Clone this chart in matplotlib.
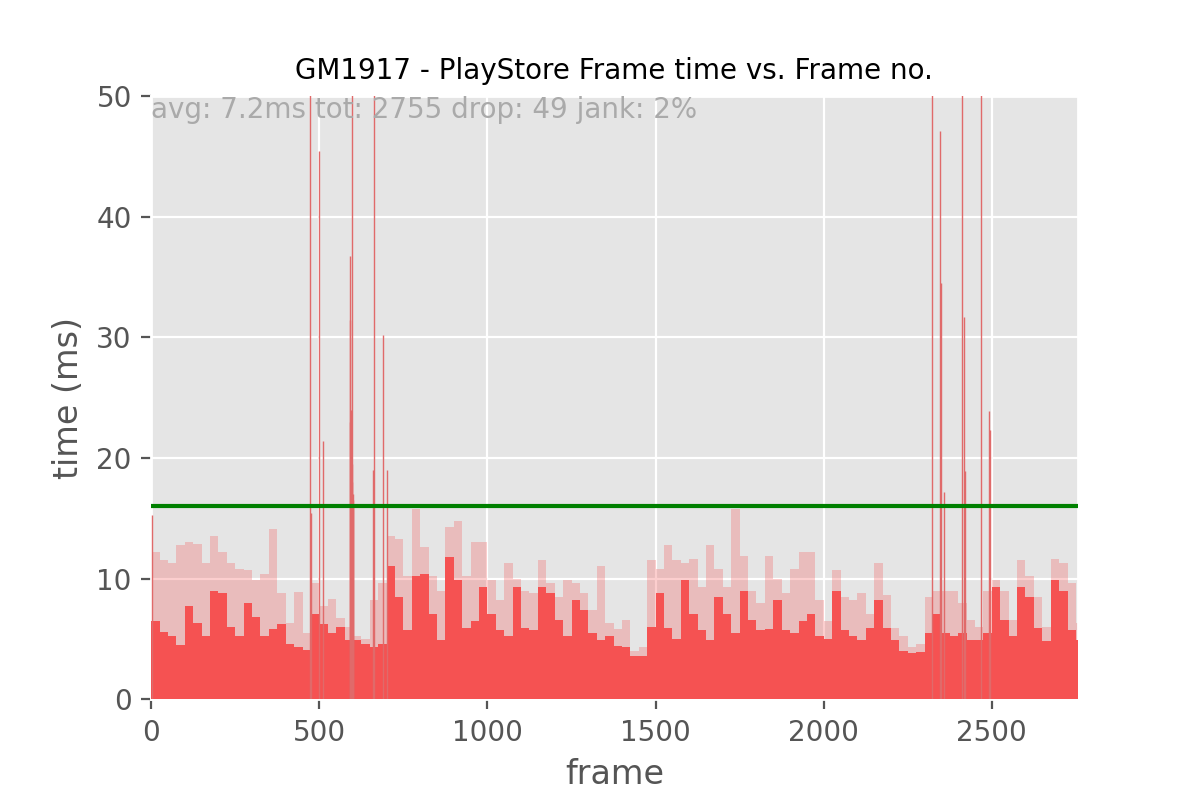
#!/usr/bin/env python3
"""Frame time per frame (PlayStore, GM1917), with the 16 ms jank threshold."""
import matplotlib
matplotlib.use("Agg")
import matplotlib.pyplot as plt
import numpy as np

# ── data (25-frame blocks) ────────────────────────────────────────────────────

TOTAL_FRAMES = 2755
BLOCK = 25

# typical (dense) frame time in each block, ms
BLOCK_BASE = [
    6.5, 5.6, 5.2, 4.5, 7.7, 6.3, 5.2, 9.0, 8.8, 6.0,
    5.2, 8.0, 6.8, 5.2, 5.8, 6.2, 4.6, 4.3, 4.1, 7.1,
    6.2, 5.5, 6.0, 4.9, 4.9, 4.6, 4.3, 4.6, 11.0, 8.5,
    5.7, 10.2, 10.4, 7.1, 4.9, 11.8, 9.9, 5.9, 6.5, 9.3,
    7.1, 5.7, 5.2, 9.3, 5.9, 5.7, 9.3, 8.8, 6.6, 5.2,
    8.2, 7.4, 5.5, 4.9, 5.2, 4.4, 4.3, 3.6, 3.6, 6.0,
    8.8, 5.9, 5.0, 9.9, 7.1, 5.7, 4.9, 8.5, 7.1, 5.5,
    9.0, 6.6, 5.7, 5.8, 8.2, 5.7, 5.5, 6.5, 7.1, 5.2,
    5.0, 9.0, 5.7, 5.2, 4.9, 5.9, 8.2, 5.9, 4.9, 4.0,
    3.8, 3.9, 5.5, 7.1, 5.5, 5.2, 5.5, 4.9, 4.9, 5.5,
    9.3, 6.6, 5.2, 9.3, 8.5, 5.9, 4.8, 9.9, 9.0, 5.7,
    4.9,
]

# highest ordinary frame in each block, ms
BLOCK_PEAK = [
    12.2, 11.5, 11.3, 12.8, 13.0, 12.9, 11.3, 13.5, 12.2, 11.3,
    10.8, 10.7, 9.9, 10.4, 14.1, 8.8, 6.3, 8.9, 5.5, 9.6,
    7.7, 8.3, 6.7, 6.0, 5.2, 5.0, 8.2, 9.6, 13.5, 13.3,
    10.2, 15.8, 12.6, 10.2, 9.0, 14.3, 14.8, 10.2, 13.0, 13.0,
    9.9, 8.2, 11.3, 10.0, 9.0, 8.8, 11.5, 9.6, 8.5, 9.9,
    9.6, 8.8, 7.4, 11.0, 6.3, 5.8, 6.6, 4.0, 4.3, 11.5,
    10.8, 12.8, 11.5, 11.3, 11.6, 9.3, 12.8, 10.8, 9.3, 15.8,
    11.9, 9.0, 8.0, 11.9, 10.0, 8.8, 10.8, 12.2, 12.2, 8.2,
    6.5, 10.7, 8.5, 8.2, 8.8, 7.1, 11.3, 8.6, 5.9, 5.2,
    4.3, 4.6, 8.5, 9.0, 9.0, 9.0, 8.0, 6.6, 6.0, 9.0,
    9.9, 9.0, 6.6, 11.5, 10.2, 8.5, 6.0, 11.6, 11.3, 9.6,
    6.3,
]

# single slow frames (frame no., ms); values above 50 run off the top
SPIKE_FRAMES = [2, 473, 475, 500, 512, 590, 591, 592, 593, 594, 595, 596,
                597, 598, 599, 600, 601, 660, 664, 688, 700,
                2322, 2347, 2350, 2357, 2411, 2416, 2419, 2467, 2493, 2495]
SPIKE_MS = [15.3, 62.0, 15.4, 45.4, 21.4, 31.4, 23.0, 36.7, 24.0, 22.5, 21.0, 19.5,
            18.0, 55.0, 17.0, 16.5, 16.0, 19.0, 60.0, 30.2, 19.0,
            60.0, 47.1, 34.5, 17.2, 60.0, 31.7, 18.9, 60.0, 23.9, 22.3]

JANK_MS = 16
STATS = "avg: 7.2ms tot: 2755 drop: 49 jank: 2%"
TITLE = "GM1917 - PlayStore Frame time vs. Frame no."

RED = "#f55252"

# ── figure ────────────────────────────────────────────────────────────────────

plt.style.use("ggplot")
fig, ax = plt.subplots(figsize=(6, 4), dpi=200)
fig.subplots_adjust(left=0.126, right=0.898, top=0.88, bottom=0.126)

starts = np.arange(len(BLOCK_BASE)) * BLOCK
widths = np.minimum(BLOCK, TOTAL_FRAMES - starts)

ax.bar(starts, BLOCK_PEAK, width=widths, align="edge", color=RED,
       alpha=0.28, lw=0, zorder=2)
ax.bar(starts, BLOCK_BASE, width=widths, align="edge", color=RED,
       lw=0, zorder=3)
ax.vlines(SPIKE_FRAMES, 0, SPIKE_MS, color="#e06a6a", lw=0.5, zorder=3)

ax.axhline(JANK_MS, color="green", lw=1.5, zorder=4)

ax.set_xlim(0, TOTAL_FRAMES)
ax.set_ylim(0, 50)
ax.set_xticks(range(0, 3000, 500))
ax.set_yticks(range(0, 60, 10))

ax.text(0, 50, STATS, color="#aaaaaa", fontsize=10, ha="left", va="top", zorder=5)
ax.set_title(TITLE, fontsize=10)
ax.set_xlabel("frame")
ax.set_ylabel("time (ms)")

fig.savefig("out.png", dpi=200)
